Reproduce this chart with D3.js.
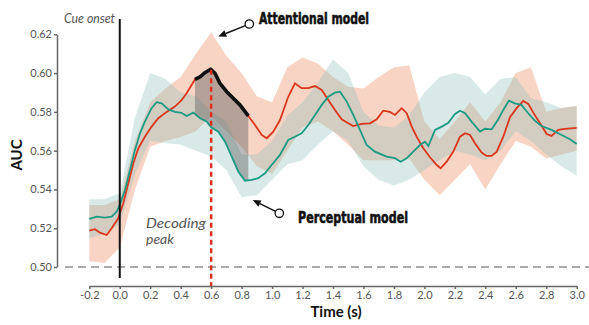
<!DOCTYPE html>
<html><head><meta charset="utf-8">
<script src="https://cdn.jsdelivr.net/npm/d3@7"></script>
<style>body{margin:0;background:#fff}svg{display:block}</style>
</head><body>
<svg id="c" width="589" height="325"></svg>
<script>
// ---- data ----
const redTime = [-0.2,-0.163,-0.13,-0.086,-0.053,-0.01,0.023,0.056,0.089,0.122,0.165,0.209,0.253,0.308,0.362,0.406,0.439,0.494,0.527,0.559,0.597,0.625,0.658,0.702,0.745,0.789,0.844,0.888,0.932,0.965,1.008,1.052,1.106,1.15,1.194,1.238,1.282,1.326,1.369,1.413,1.457,1.5,1.533,1.588,1.643,1.687,1.73,1.774,1.807,1.851,1.884,1.917,1.949,1.993,2.037,2.081,2.107,2.146,2.19,2.234,2.267,2.3,2.332,2.376,2.409,2.442,2.475,2.518,2.562,2.606,2.649,2.682,2.715,2.759,2.803,2.835,2.879,2.923,3.0];
const redAUC = [0.5188,0.5195,0.5177,0.5165,0.520,0.5251,0.5329,0.5432,0.5535,0.5612,0.5672,0.5724,0.5767,0.580,0.5827,0.5861,0.5896,0.5968,0.5981,0.6002,0.602,0.5999,0.5947,0.5904,0.587,0.5836,0.5779,0.5732,0.5681,0.5664,0.5698,0.5758,0.5878,0.5947,0.5922,0.5922,0.5933,0.5913,0.5861,0.581,0.5762,0.5741,0.5727,0.5738,0.5741,0.5762,0.5806,0.580,0.5784,0.5819,0.5793,0.5724,0.5672,0.5612,0.5566,0.5526,0.5509,0.5543,0.5595,0.5672,0.569,0.5681,0.5638,0.559,0.5573,0.5573,0.5595,0.5672,0.5772,0.5819,0.5856,0.5841,0.5796,0.5741,0.5686,0.5676,0.5707,0.5712,0.5717];
const greenTime = [-0.2,-0.15,-0.097,-0.053,-0.02,0.0,0.034,0.067,0.1,0.133,0.165,0.209,0.242,0.275,0.319,0.362,0.405,0.439,0.483,0.527,0.57,0.6,0.647,0.691,0.735,0.778,0.822,0.866,0.909,0.953,0.997,1.052,1.106,1.15,1.194,1.238,1.282,1.326,1.369,1.413,1.446,1.49,1.533,1.577,1.621,1.675,1.752,1.807,1.844,1.884,1.927,1.971,2.004,2.026,2.07,2.114,2.157,2.201,2.234,2.267,2.31,2.365,2.398,2.442,2.485,2.518,2.555,2.593,2.637,2.682,2.725,2.769,2.835,2.901,2.956,3.0];
const greenAUC = [0.5248,0.526,0.5255,0.526,0.5286,0.532,0.5397,0.55,0.5604,0.569,0.575,0.5819,0.585,0.5844,0.5813,0.580,0.5795,0.5779,0.5796,0.5767,0.575,0.572,0.5698,0.5646,0.5569,0.5492,0.5445,0.5449,0.5458,0.5483,0.5526,0.5578,0.5655,0.5672,0.569,0.5732,0.5784,0.5836,0.5878,0.5899,0.5904,0.5853,0.5784,0.5707,0.5629,0.5595,0.5569,0.5561,0.5543,0.5561,0.5595,0.5629,0.5646,0.5624,0.5707,0.5724,0.5744,0.5789,0.5806,0.5793,0.575,0.5698,0.5713,0.571,0.5762,0.581,0.5858,0.5844,0.5836,0.5793,0.5755,0.5727,0.5707,0.5681,0.5659,0.5634];
const bandTime   = [-0.2,-0.1,0.0,0.1,0.2,0.3,0.4,0.5,0.6,0.7,0.8,0.9,1.0,1.1,1.2,1.3,1.4,1.5,1.6,1.7,1.8,1.9,2.0,2.1,2.2,2.3,2.4,2.5,2.6,2.7,2.8,2.9,3.0];
const redUpper   = [0.532,0.532,0.535,0.565,0.585,0.592,0.598,0.610,0.621,0.609,0.600,0.588,0.585,0.603,0.608,0.605,0.598,0.593,0.592,0.598,0.603,0.604,0.575,0.566,0.575,0.585,0.575,0.585,0.600,0.603,0.580,0.582,0.583];
const redLower   = [0.503,0.502,0.510,0.540,0.562,0.565,0.567,0.570,0.578,0.570,0.562,0.552,0.548,0.560,0.572,0.575,0.570,0.563,0.555,0.555,0.555,0.556,0.545,0.537,0.545,0.553,0.540,0.553,0.565,0.562,0.556,0.558,0.560];
const greenUpper = [0.535,0.535,0.538,0.577,0.600,0.597,0.590,0.588,0.580,0.575,0.558,0.558,0.565,0.578,0.585,0.595,0.607,0.600,0.580,0.573,0.572,0.578,0.590,0.598,0.600,0.598,0.589,0.597,0.598,0.587,0.585,0.582,0.583];
const greenLower = [0.515,0.517,0.522,0.548,0.565,0.564,0.563,0.560,0.557,0.550,0.536,0.537,0.545,0.553,0.555,0.563,0.570,0.565,0.552,0.545,0.542,0.545,0.550,0.555,0.560,0.558,0.555,0.560,0.570,0.565,0.558,0.552,0.547];
const xTicks = [-0.2,0.0,0.2,0.4,0.6,0.8,1.0,1.2,1.4,1.6,1.8,2.0,2.2,2.4,2.6,2.8,3.0];
const yTicks = [0.50,0.52,0.54,0.56,0.58,0.60,0.62];
const peakTime = 0.6;
const windowStart = 0.494, windowEnd = 0.844;
const chance = 0.50;

// ---- chart ----
const svg = d3.select('#c');
const x = d3.scaleLinear().domain([-0.2, 3.0]).range([89.3, 576.7]);
const y = d3.scaleLinear().domain([0.50, 0.62]).range([267, 34.3]);
const FONT = "Lato, 'Open Sans', sans-serif";

const red = redTime.map((t,i)=>({t, v:redAUC[i]}));
const green = greenTime.map((t,i)=>({t, v:greenAUC[i]}));
const band = bandTime.map((t,i)=>({t, ru:redUpper[i], rl:redLower[i], gu:greenUpper[i], gl:greenLower[i]}));

// bands
svg.append('path').datum(band)
  .attr('d', d3.area().x(d=>x(d.t)).y0(d=>y(d.rl)).y1(d=>y(d.ru)))
  .attr('fill', '#f0a07e').attr('fill-opacity', 0.45);
svg.append('path').datum(band)
  .attr('d', d3.area().x(d=>x(d.t)).y0(d=>y(d.gl)).y1(d=>y(d.gu)))
  .attr('fill', '#8fc0ba').attr('fill-opacity', 0.35);

// chance line
svg.append('line').attr('x1', 65).attr('x2', 589).attr('y1', y(chance)).attr('y2', y(chance))
  .attr('stroke', '#aaa').attr('stroke-width', 2).attr('stroke-dasharray', '8,5');

// gray window between curves
function interp(arr, t){
  const tt = arr.map(d=>d.t);
  const i = Math.max(1, Math.min(arr.length-1, d3.bisectLeft(tt, t)));
  const a = arr[i-1], b = arr[i];
  return a.v + (b.v-a.v)*(t-a.t)/(b.t-a.t);
}
const redWin = [{t:windowStart, v:interp(red, windowStart)}]
  .concat(red.filter(d=>d.t>windowStart && d.t<windowEnd))
  .concat([{t:windowEnd, v:interp(red, windowEnd)}]);
const greenWin = [{t:windowStart, v:interp(green, windowStart)}]
  .concat(green.filter(d=>d.t>windowStart && d.t<windowEnd))
  .concat([{t:windowEnd, v:interp(green, windowEnd)}]);
const poly = redWin.concat(greenWin.slice().reverse());
svg.append('path')
  .attr('d', d3.line().x(d=>x(d.t)).y(d=>y(d.v))(poly) + 'Z')
  .attr('fill', '#5a5a5a').attr('fill-opacity', 0.42);

// lines
const line = d3.line().x(d=>x(d.t)).y(d=>y(d.v));
svg.append('path').datum(red).attr('d', line).attr('fill','none')
  .attr('stroke', '#d9361c').attr('stroke-width', 1.8);
svg.append('path').datum(green).attr('d', line).attr('fill','none')
  .attr('stroke', '#1b9a83').attr('stroke-width', 1.8);
svg.append('path').datum(redWin).attr('d', line).attr('fill','none')
  .attr('stroke', '#111').attr('stroke-width', 3.6).attr('stroke-linejoin','round');

// peak dashed line
svg.append('line').attr('x1', x(peakTime)).attr('x2', x(peakTime))
  .attr('y1', y(interp(red, peakTime))).attr('y2', 287)
  .attr('stroke', '#e0301e').attr('stroke-width', 2.5).attr('stroke-dasharray', '5,3.5');

// cue onset line
svg.append('line').attr('x1', x(0)).attr('x2', x(0)).attr('y1', 19).attr('y2', 278)
  .attr('stroke', '#111').attr('stroke-width', 2);

// axes
const yAxis = svg.append('g').attr('transform','translate(57,0)')
  .call(d3.axisLeft(y).tickValues(yTicks).tickSize(3).tickSizeOuter(0).tickFormat(d3.format('.2f')));
const xAxis = svg.append('g').attr('transform','translate(0,286)')
  .call(d3.axisBottom(x).tickValues(xTicks).tickSize(3).tickSizeOuter(0)
    .tickFormat(d=>d3.format('.1f')(d).replace('−','-')));
[yAxis, xAxis].forEach(g=>{
  g.select('.domain').attr('stroke','#666').attr('stroke-width',1.5);
  g.selectAll('.tick line').attr('stroke','#666').attr('stroke-width',1.5);
  g.selectAll('.tick text').attr('fill','#555').style('font-family',FONT).style('font-size','11px');
});
yAxis.selectAll('.tick text').attr('x', -5);
xAxis.selectAll('.tick text').attr('y', 5.5);

// axis titles
svg.append('text').attr('transform','translate(22,155) rotate(-90)').attr('text-anchor','middle')
  .style('font-family',FONT).style('font-weight','bold').style('font-size','15px').attr('fill','#111').text('AUC');
svg.append('text').attr('x', 336).attr('y', 317).attr('text-anchor','middle')
  .style('font-family',FONT).style('font-weight','bold').style('font-size','15px').attr('fill','#111').text('Time (s)');

// annotations
svg.append('text').attr('x', 64).attr('y', 23).attr('textLength', 51).attr('lengthAdjust','spacingAndGlyphs')
  .style('font-family',FONT).style('font-style','italic').style('font-size','12.5px').attr('fill','#555').text('Cue onset');
svg.append('text').attr('x', 146).attr('y', 228).attr('textLength', 60).attr('lengthAdjust','spacingAndGlyphs')
  .style('font-family',FONT).style('font-style','italic').style('font-size','14px').attr('fill','#555').text('Decoding');
svg.append('text').attr('x', 146).attr('y', 244)
  .style('font-family',FONT).style('font-style','italic').style('font-size','14px').attr('fill','#555').text('peak');

function callout(cx, cy, tx, ty){
  const dx = tx-cx, dy = ty-cy, L = Math.hypot(dx,dy), ux = dx/L, uy = dy/L;
  const r = 4.2, ah = 8, aw = 3.5;
  const bx = tx - ux*ah, by = ty - uy*ah;
  svg.append('line').attr('x1', cx+ux*r).attr('y1', cy+uy*r).attr('x2', bx).attr('y2', by)
    .attr('stroke','#111').attr('stroke-width',1.4);
  svg.append('path').attr('d', `M${tx},${ty}L${bx-uy*aw},${by+ux*aw}L${bx+uy*aw},${by-ux*aw}Z`).attr('fill','#111');
  svg.append('circle').attr('cx',cx).attr('cy',cy).attr('r',r).attr('fill','#fff').attr('stroke','#111').attr('stroke-width',1.3);
}
callout(249.3, 24, 218.3, 36.5);
callout(279.3, 213.3, 252.7, 200);

const CFONT = "'Liberation Sans Narrow','DejaVu Sans Condensed','Arial Narrow',sans-serif";
svg.append('text').attr('x', 259).attr('y', 23.5).attr('textLength', 110).attr('lengthAdjust','spacingAndGlyphs')
  .style('font-family',CFONT).style('font-weight','900').style('font-size','16.5px')
  .attr('fill','#111').attr('stroke','#111').attr('stroke-width',0.6).text('Attentional model');
svg.append('text').attr('x', 298).attr('y', 223).attr('textLength', 110).attr('lengthAdjust','spacingAndGlyphs')
  .style('font-family',CFONT).style('font-weight','900').style('font-size','16.5px')
  .attr('fill','#111').attr('stroke','#111').attr('stroke-width',0.6).text('Perceptual model');
</script>
</body></html>
